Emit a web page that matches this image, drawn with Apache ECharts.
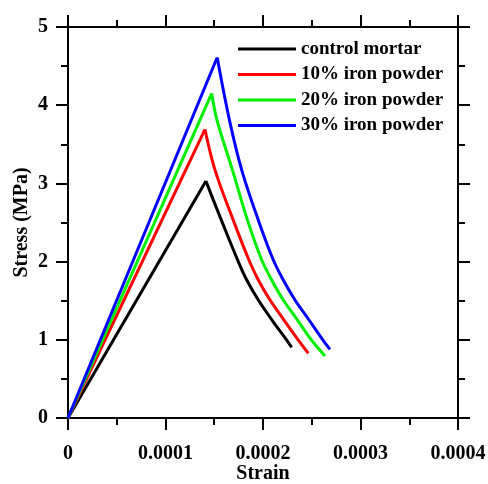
<!DOCTYPE html>
<html>
<head>
<meta charset="utf-8">
<script src="https://cdn.jsdelivr.net/npm/echarts@6/dist/echarts.min.js"></script>
<style>
  html, body { margin: 0; padding: 0; background: #ffffff; }
  #chart { width: 488px; height: 484px; }
</style>
</head>
<body>
<div id="chart"></div>
<script>
// Stress-strain curves of mortar with iron powder replacement
const seriesNames = ['control mortar', '10% iron powder', '20% iron powder', '30% iron powder'];
const seriesColors = ['#000000', '#ff0000', '#00ee00', '#0000ff'];

const controlStrain = [0, 0.0001415, 0.0001471, 0.0001573, 0.0001753, 0.0001833, 0.0001952, 0.0002092, 0.0002243, 0.0002294];
const controlStress = [0, 3.03, 2.85, 2.53, 1.98, 1.765, 1.509, 1.253, 0.997, 0.904];

const iron10Strain = [0, 0.0001405, 0.0001508, 0.0001695, 0.0001856, 0.0001952, 0.0002072, 0.0002215, 0.0002362, 0.0002465];
const iron10Stress = [0, 3.69, 3.17, 2.53, 2.02, 1.765, 1.509, 1.253, 0.997, 0.827];

const iron20Strain = [0, 0.0001474, 0.0001528, 0.0001687, 0.0001841, 0.0001987, 0.0002089, 0.0002208, 0.0002354, 0.0002497, 0.0002636];
const iron20Stress = [0, 4.15, 3.81, 3.17, 2.53, 2.02, 1.765, 1.509, 1.253, 0.997, 0.793];

const iron30Strain = [0, 0.000153, 0.0001656, 0.0001782, 0.0001952, 0.0002106, 0.0002208, 0.0002328, 0.0002472, 0.0002615, 0.0002687];
const iron30Stress = [0, 4.61, 3.81, 3.17, 2.53, 2.02, 1.765, 1.509, 1.253, 0.997, 0.878];

const xTickLabels = ['0', '0.0001', '0.0002', '0.0003', '0.0004'];
const yTickLabels = ['0', '1', '2', '3', '4', '5'];

const strainSets = [controlStrain, iron10Strain, iron20Strain, iron30Strain];
const stressSets = [controlStress, iron10Stress, iron20Stress, iron30Stress];

const FONT = '"Liberation Serif", "Times New Roman", serif';
const AXIS_COLOR = '#000000';

function pairUp(xs, ys) {
  return xs.map((x, i) => [x, ys[i]]);
}

// index of the peak stress: the loading branch is straight, the softening branch curved
function peakIndex(ys) {
  let k = 0;
  ys.forEach((y, i) => { if (y > ys[k]) k = i; });
  return k;
}

function makeAxis(kind, position, showLabels) {
  const isX = kind === 'x';
  const axis = {
    type: 'value',
    position: position,
    min: 0,
    max: isX ? 0.0004 : 5,
    interval: isX ? 0.0001 : 1,
    axisLine: { show: true, onZero: false, lineStyle: { color: AXIS_COLOR, width: 2 } },
    axisTick: { show: true, inside: false, length: 12, lineStyle: { color: AXIS_COLOR, width: 2 } },
    minorTick: { show: true, splitNumber: 2, length: 7, lineStyle: { color: AXIS_COLOR, width: 2 } },
    splitLine: { show: false },
    minorSplitLine: { show: false },
    axisLabel: {
      show: showLabels,
      margin: isX ? 26 : 20,
      color: '#000000',
      fontFamily: FONT,
      fontWeight: 'bold',
      fontSize: 20,
      formatter: (v, i) => (isX ? xTickLabels : yTickLabels)[i]
    }
  };
  if (showLabels) {
    axis.name = isX ? 'Strain' : 'Stress (MPa)';
    axis.nameLocation = 'middle';
    axis.nameGap = isX ? 46 : 36;
    axis.nameMoveOverlap = false;
    axis.nameTextStyle = { color: '#000000', fontFamily: FONT, fontWeight: 'bold', fontSize: 20 };
  }
  return axis;
}

const series = [];
seriesNames.forEach((name, i) => {
  const pts = pairUp(strainSets[i], stressSets[i]);
  const k = peakIndex(stressSets[i]);
  const common = {
    name: name,
    type: 'line',
    xAxisIndex: 0,
    yAxisIndex: 0,
    symbol: 'none',
    color: seriesColors[i],
    lineStyle: { color: seriesColors[i], width: 3 }
  };
  series.push(Object.assign({}, common, { smooth: false, data: pts.slice(0, k + 1) }));
  series.push(Object.assign({}, common, { smooth: 0.35, data: pts.slice(k) }));
});

const chart = echarts.init(document.getElementById('chart'), null, { renderer: 'canvas' });

chart.setOption({
  animation: false,
  backgroundColor: '#ffffff',
  grid: { left: 68, right: 30, top: 27, bottom: 66, containLabel: false, outerBoundsMode: 'none' },
  xAxis: [makeAxis('x', 'bottom', true), makeAxis('x', 'top', false)],
  yAxis: [makeAxis('y', 'left', true), makeAxis('y', 'right', false)],
  legend: {
    show: true,
    orient: 'vertical',
    left: 238,
    top: 39,
    padding: 0,
    icon: 'rect',
    itemWidth: 58,
    itemHeight: 3,
    itemGap: 5.5,
    textStyle: { color: '#000000', fontFamily: FONT, fontWeight: 'bold', fontSize: 19, lineHeight: 20 },
    data: seriesNames
  },
  series: series
});
</script>
</body>
</html>
